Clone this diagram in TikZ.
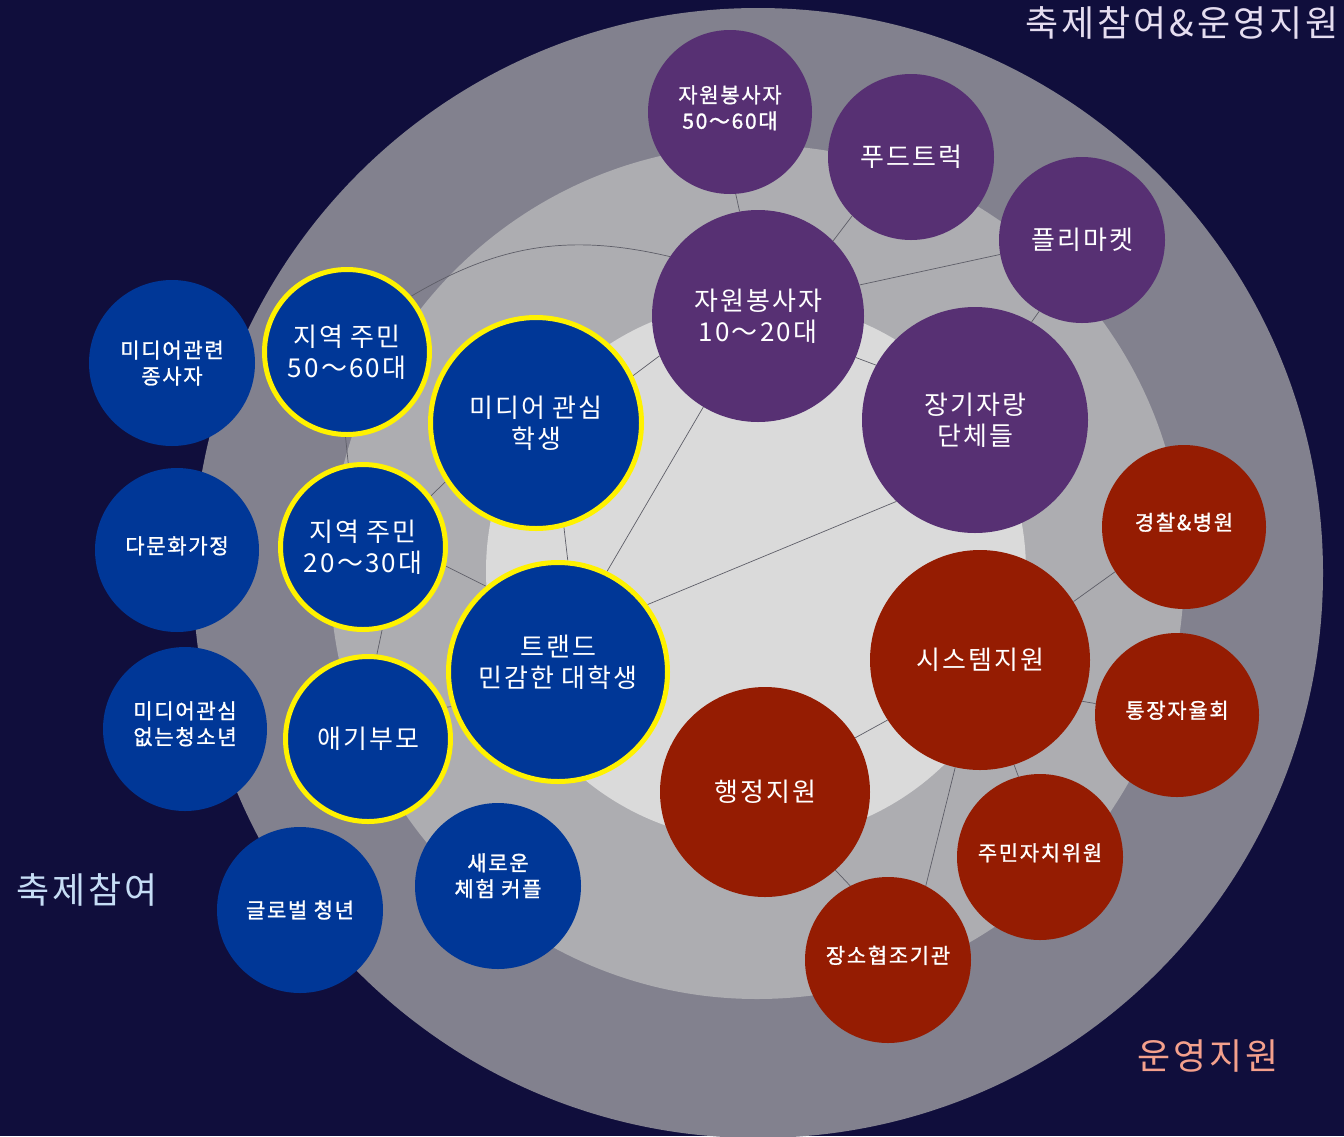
\documentclass[tikz,border=0pt]{standalone}
\usepackage{fontspec}
\setmainfont{Noto Sans CJK KR}[LetterSpace=8]
\newfontfamily\smallfam{Noto Sans CJK KR}[LetterSpace=8, FakeBold=1.2]
\usetikzlibrary{backgrounds}
\definecolor{navybg}{HTML}{100E3C}
\definecolor{ringout}{HTML}{82818E}
\definecolor{ringmid}{HTML}{ADADB1}
\definecolor{ringin}{HTML}{DADADA}
\definecolor{joinblue}{HTML}{003797}
\definecolor{helppurple}{HTML}{573073}
\definecolor{runred}{HTML}{951C02}
\definecolor{linkgray}{HTML}{5E5E68}
\definecolor{titlelav}{HTML}{E5DDF0}
\definecolor{titleblue}{HTML}{C6DDF5}
\definecolor{titlesalmon}{HTML}{F4A08C}
\tikzset{
    bubble/.style={circle, inner sep=0pt, text=white, align=center},
    bigtext/.style={font=\fontsize{26}{31}\selectfont},
    smalltext/.style={font=\smallfam\fontsize{21}{26}\selectfont},
    textlift/.style={text depth=#1},
    joiner/.style={bubble, fill=joinblue},
    core/.style={bubble, fill=joinblue, draw=yellow, line width=5pt},
    helper/.style={bubble, fill=helppurple},
    runner/.style={bubble, fill=runred},
    link/.style={draw=linkgray, line width=0.7pt},
    heading/.style={font=\fontsize{36}{40}\selectfont}
}
\begin{document}
\begin{tikzpicture}[x=1pt, y=-1pt]
    \useasboundingbox (0,0) rectangle (1344,1136);
    \begin{scope}[on background layer]
    \fill[navybg] (0,0) rectangle (1344,1136);
    \fill[ringout] (758,573) circle[radius=565pt];
    \fill[ringmid] (757,572) circle[radius=427pt];
    \fill[ringin] (756,571) circle[radius=270pt];
    \end{scope}

    % 축제참여
    \node[joiner, smalltext, minimum size=166pt] (mediajob) at (172,363) {미디어관련\\종사자};
    \node[joiner, smalltext, textlift=10pt, minimum size=164pt] (multicult) at (177,550) {다문화가정};
    \node[joiner, smalltext, textlift=12pt, minimum size=164pt] (teens) at (185,729) {미디어관심\\없는청소년};
    \node[joiner, smalltext, minimum size=166pt] (global) at (300,910) {글로벌 청년};
    \node[joiner, smalltext, textlift=22pt, minimum size=166pt] (couple) at (498,886) {새로운\\체험 커플};
    \node[core, bigtext, minimum size=165pt] (local5060) at (347,352) {지역 주민\\50～60대};
    \node[core, bigtext, minimum size=165pt] (local2030) at (363,547) {지역 주민\\20～30대};
    \node[core, bigtext, minimum size=165pt] (parents) at (368,739) {애기부모};
    \node[core, bigtext, minimum size=211pt] (student) at (536,423) {미디어 관심\\학생};
    \node[core, bigtext, textlift=22pt, minimum size=219pt] (trend) at (558,672) {트랜드\\민감한 대학생};

    % 축제참여&운영지원
    \node[helper, smalltext, textlift=10pt, minimum size=164pt] (vol5060) at (730,112) {자원봉사자\\50～60대};
    \node[helper, bigtext, minimum size=166pt] (foodtruck) at (911,157) {푸드트럭};
    \node[helper, bigtext, minimum size=166pt] (flea) at (1082,240) {플리마켓};
    \node[helper, bigtext, minimum size=212pt] (vol1020) at (758,316) {자원봉사자\\10～20대};
    \node[helper, bigtext, minimum size=226pt] (talent) at (975,420) {장기자랑\\단체들};

    % 운영지원
    \node[runner, smalltext, textlift=11pt, minimum size=164pt] (police) at (1184,527) {경찰\&병원};
    \node[runner, bigtext, minimum size=220pt] (system) at (980,660) {시스템지원};
    \node[runner, smalltext, textlift=11pt, minimum size=164pt] (tongjang) at (1177,715) {통장자율회};
    \node[runner, bigtext, minimum size=210pt] (admin) at (765,792) {행정지원};
    \node[runner, smalltext, textlift=10pt, minimum size=166pt] (council) at (1040,857) {주민자치위원};
    \node[runner, smalltext, textlift=11pt, minimum size=166pt] (venue) at (888,960) {장소협조기관};

    \node[heading, text=titlelav] (titleboth) at (1182,23) {축제참여\&운영지원};
    \node[heading, text=titleblue] (titlejoin) at (87,890) {축제참여};
    \node[heading, text=titlesalmon] (titlerun) at (1208,1056) {운영지원};

    \begin{scope}[on background layer]
    \draw[link] (local5060.41) to[bend left=22] (vol1020.146);
    \draw[link] (local5060.269) -- (local2030.100);
    \draw[link] (student.213) -- (local2030.37);
    \draw[link] (student.26) -- (vol1020.202);
    \draw[link] (student.285) -- (trend.85);
    \draw[link] (local2030.347) -- (trend.130);
    \draw[link] (local2030.283) -- (parents.84);
    \draw[link] (parents.22) -- (trend.198);
    \draw[link] (vol1020.239) -- (trend.64);
    \draw[link] (trend.37) -- (talent.226);
    \draw[link] (vol5060.274) -- (vol1020.100);
    \draw[link] (foodtruck.225) -- (vol1020.45);
    \draw[link] (flea.190) -- (vol1020.17);
    \draw[link] (flea.239) -- (talent.60);
    \draw[link] (vol1020.337) -- (talent.151);
    \draw[link] (police.213) -- (system.32);
    \draw[link] (system.338) -- (tongjang.172);
    \draw[link] (system.213) -- (admin.31);
    \draw[link] (system.288) -- (council.105);
    \draw[link] (system.257) -- (venue.63);
    \draw[link] (admin.312) -- (venue.117);
    \end{scope}
\end{tikzpicture}
\end{document}
